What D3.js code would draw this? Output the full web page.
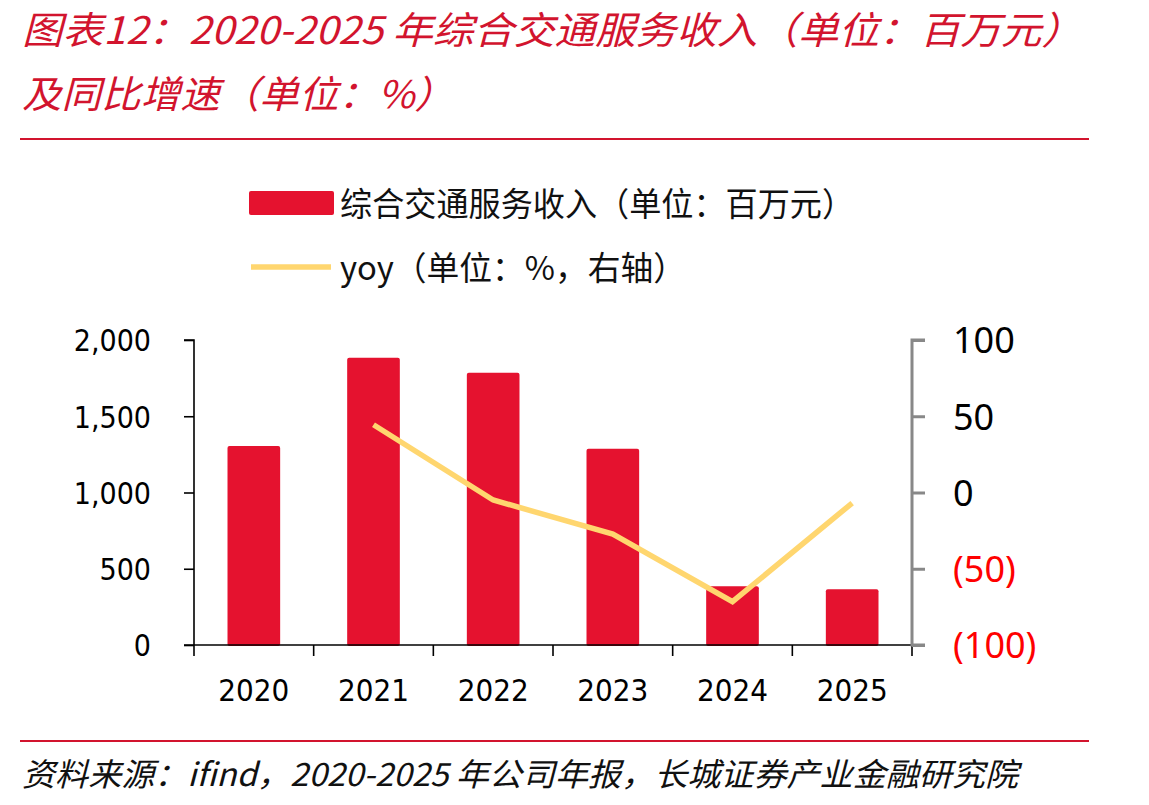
<!DOCTYPE html>
<html><head><meta charset="utf-8">
<script src="https://cdn.jsdelivr.net/npm/d3@7"></script>
<style>body{margin:0;background:#fff}svg{display:block}</style>
</head><body>
<svg id="c" width="1149" height="805"></svg>
<script>
const categories = ["2020","2021","2022","2023","2024","2025"];
const revenue = [1305, 1884, 1785, 1287, 385, 365];
const yoy = [null, 44.4, -4.9, -27.3, -71.6, -6.9];
const leftTicks = [0, 500, 1000, 1500, 2000];
const rightTicks = [-100, -50, 0, 50, 100];
const titleLines = ["图表12：2020-2025 年综合交通服务收入（单位：百万元）", "及同比增速（单位：%）"];
const legendLabels = ["综合交通服务收入（单位：百万元）", "yoy（单位：%，右轴）"];
const sourceText = "资料来源：ifind，2020-2025 年公司年报，长城证券产业金融研究院";

const svg = d3.select("#c");
const red = "#D2142E", barColor = "#E5122F", lineColor = "#FFD66F";
const cjk = "'Noto Sans CJK SC', 'Noto Sans', sans-serif";

// Title
svg.append("text").attr("x", 22).attr("y", 44).attr("fill", red)
  .attr("font-family", cjk).attr("font-style", "italic").attr("font-size", 38)
  .attr("textLength", 1060).attr("lengthAdjust", "spacingAndGlyphs").text(titleLines[0]);
svg.append("text").attr("x", 22).attr("y", 108).attr("fill", red)
  .attr("font-family", cjk).attr("font-style", "italic").attr("font-size", 38)
  .attr("textLength", 432).attr("lengthAdjust", "spacingAndGlyphs").text(titleLines[1]);
svg.append("line").attr("x1", 20).attr("x2", 1089).attr("y1", 139).attr("y2", 139)
  .attr("stroke", red).attr("stroke-width", 2);

// Footer
svg.append("line").attr("x1", 20).attr("x2", 1089).attr("y1", 741).attr("y2", 741)
  .attr("stroke", red).attr("stroke-width", 2);
svg.append("text").attr("x", 22).attr("y", 786).attr("fill", "#111")
  .attr("font-family", cjk).attr("font-style", "italic").attr("font-size", 32)
  .attr("textLength", 996).attr("lengthAdjust", "spacingAndGlyphs").text(sourceText);

// Scales
const x = d3.scaleBand().domain(categories).range([194, 912]).paddingInner(0.56).paddingOuter(0.28);
const xb = d3.scaleBand().domain(categories).range([194, 912]);
const yL = d3.scaleLinear().domain([0, 2000]).range([645, 340]);
const yR = d3.scaleLinear().domain([-100, 100]).range([645, 340]);

// Bars
svg.append("g").selectAll("rect").data(revenue).join("rect")
  .attr("x", (d, i) => x(categories[i]))
  .attr("width", x.bandwidth())
  .attr("y", d => yL(d))
  .attr("height", d => yL(0) - yL(d) + 1)
  .attr("rx", 2)
  .attr("fill", barColor);

// Left axis
const gL = svg.append("g").attr("transform", "translate(194,0)")
  .call(d3.axisLeft(yL).tickValues(leftTicks).tickSize(10).tickPadding(33).tickFormat(d3.format(",")));
gL.select(".domain").attr("stroke", "#000").attr("stroke-width", 1.6).attr("d", "M-10,340H0V645");
gL.selectAll(".tick line").attr("stroke", "#000").attr("stroke-width", 1.6);
gL.selectAll(".tick text").attr("font-family", "'DejaVu Sans Condensed', 'DejaVu Sans', sans-serif")
  .attr("font-stretch", "condensed").attr("font-size", 30).attr("fill", "#000").attr("dy", "0.36em");

// X axis
const gX = svg.append("g").attr("transform", "translate(0,645)");
gX.append("line").attr("x1", 184).attr("x2", 912).attr("y1", 0).attr("y2", 0)
  .attr("stroke", "#000").attr("stroke-width", 1.6);
gX.selectAll("line.tk").data(categories.concat(["end"])).join("line").attr("class", "tk")
  .attr("x1", (d, i) => i < categories.length ? xb(d) : xb.range()[1])
  .attr("x2", (d, i) => i < categories.length ? xb(d) : xb.range()[1])
  .attr("y1", 0).attr("y2", 11).attr("stroke", "#000").attr("stroke-width", 1.6);
gX.selectAll("text").data(categories).join("text")
  .attr("x", d => xb(d) + xb.bandwidth() / 2).attr("y", 56)
  .attr("text-anchor", "middle")
  .attr("font-family", "'Liberation Sans Narrow', 'DejaVu Sans Condensed', sans-serif")
  .attr("font-size", 31).attr("fill", "#000").text(d => d);

// Right axis
const gR = svg.append("g").attr("transform", "translate(912,0)")
  .call(d3.axisRight(yR).tickValues(rightTicks).tickSize(13).tickPadding(28)
    .tickFormat(d => d < 0 ? "(" + Math.abs(d) + ")" : d));
gR.select(".domain").attr("stroke", "#888").attr("stroke-width", 3).attr("d", "M13,340H0V645H13");
gR.selectAll(".tick line").attr("stroke", "#888").attr("stroke-width", 3);
gR.selectAll(".tick text").attr("font-family", "'Noto Sans', 'Open Sans', sans-serif")
  .attr("font-size", 36).attr("dy", "0.36em")
  .attr("fill", d => d < 0 ? "#FF0000" : "#000");

// Line
const pts = yoy.map((v, i) => ({v, c: categories[i]})).filter(d => d.v !== null);
svg.append("path").datum(pts)
  .attr("d", d3.line().x(d => xb(d.c) + xb.bandwidth() / 2).y(d => yR(d.v)))
  .attr("fill", "none").attr("stroke", lineColor).attr("stroke-width", 5.5)
  .attr("stroke-linejoin", "miter");

// Legend
svg.append("rect").attr("x", 249).attr("y", 191).attr("width", 85).attr("height", 24)
  .attr("rx", 2).attr("fill", barColor);
svg.append("text").attr("x", 340).attr("y", 216).attr("font-family", cjk).attr("font-size", 33)
  .attr("fill", "#111").attr("textLength", 514).attr("lengthAdjust", "spacingAndGlyphs").text(legendLabels[0]);
svg.append("line").attr("x1", 251).attr("x2", 331).attr("y1", 267).attr("y2", 267)
  .attr("stroke", lineColor).attr("stroke-width", 5.5);
svg.append("text").attr("x", 340).attr("y", 280).attr("font-family", cjk).attr("font-size", 33)
  .attr("fill", "#111").attr("textLength", 346).attr("lengthAdjust", "spacingAndGlyphs").text(legendLabels[1]);
</script>
</body></html>
